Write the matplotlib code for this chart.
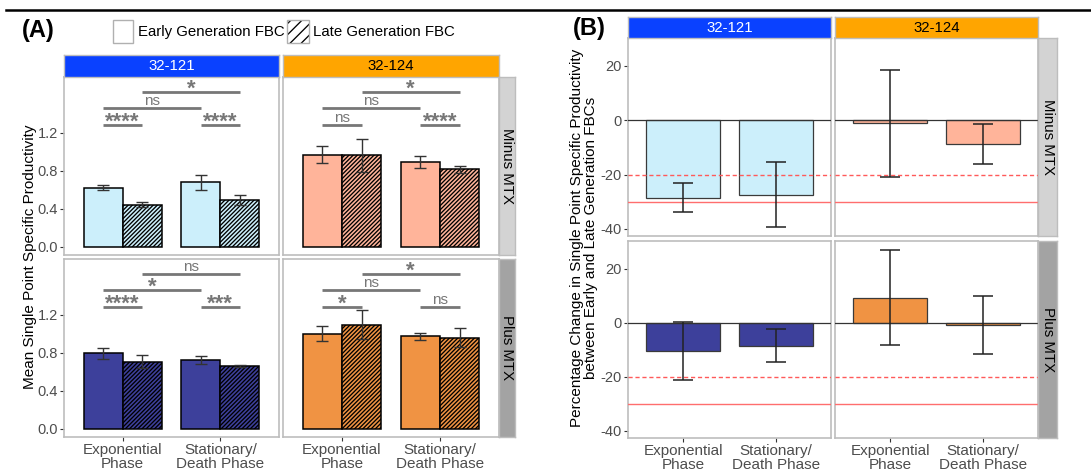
import matplotlib
matplotlib.use("Agg")
import matplotlib.pyplot as plt
import numpy as np
from matplotlib.patches import Rectangle
from matplotlib.lines import Line2D

plt.rcParams["font.family"] = ["Liberation Sans", "DejaVu Sans"]
plt.rcParams["hatch.linewidth"] = 0.95
plt.rcParams["axes.unicode_minus"] = False

# ---------------------------------------------------------------- data
phases = ["Exponential\nPhase", "Stationary/\nDeath Phase"]
cell_lines = ["32-121", "32-124"]
conditions = ["Minus MTX", "Plus MTX"]

# (A) mean single point specific productivity; rows = cell line, cols = phase
early_minus = [[0.624, 0.680], [0.968, 0.890]]
early_minus_sd = [[0.030, 0.080], [0.090, 0.060]]
late_minus = [[0.445, 0.495], [0.961, 0.814]]
late_minus_sd = [[0.025, 0.055], [0.170, 0.035]]
early_plus = [[0.793, 0.723], [1.002, 0.971]]
early_plus_sd = [[0.055, 0.045], [0.080, 0.037]]
late_plus = [[0.706, 0.664], [1.096, 0.960]]
late_plus_sd = [[0.070, 0.010], [0.155, 0.095]]

# significance labels: [exp early-late, stat early-late, early exp-stat, late exp-stat]
sig_minus = [["****", "****", "ns", "*"], ["ns", "****", "ns", "*"]]
sig_plus = [["****", "***", "*", "ns"], ["*", "ns", "ns", "*"]]

# (B) percentage change late vs early; rows = cell line, cols = phase
pct_minus = [[-28.5, -27.4], [-1.1, -8.9]]
pct_minus_err = [[5.4, 11.9], [19.7, 7.3]]
pct_plus = [[-10.4, -8.5], [9.3, -0.85]]
pct_plus_err = [[10.8, 6.0], [17.7, 10.7]]

a_ticks = [0.0, 0.4, 0.8, 1.2]
b_ticks = [-40, -20, 0, 20]

# ---------------------------------------------------------------- style
fills = {("Minus MTX", "32-121"): "#CCEFFB", ("Minus MTX", "32-124"): "#FFB49A",
         ("Plus MTX", "32-121"): "#3D409B", ("Plus MTX", "32-124"): "#F09343"}
strip_top = {"32-121": ("#0A41FF", "white"), "32-124": ("#FFA500", "black")}
strip_side = {"Minus MTX": "#D3D3D3", "Plus MTX": "#A3A3A3"}
frame_col = "#BDBDBD"
tick_col = "#333333"
label_col = "#4D4D4D"

W, H = 1091, 470
fig = plt.figure(figsize=(W / 100, H / 100), dpi=100)


def box(x0, y0, x1, y1):
    return [x0 / W, 1 - y1 / H, (x1 - x0) / W, (y1 - y0) / H]


def strip(rect, text, face, color="black", rotation=0):
    s = fig.add_axes(box(*rect))
    s.set_facecolor(face)
    s.set_xticks([])
    s.set_yticks([])
    for sp in s.spines.values():
        sp.set_color(frame_col)
        sp.set_linewidth(1.0)
    s.text(0.5, 0.5, text, ha="center", va="center", color=color,
           fontsize=10.8, rotation=rotation, transform=s.transAxes)
    return s


def style_panel(ax, left, bottom, yticks, ylabels, ylim):
    ax.set_xlim(0.4, 2.6)
    ax.set_ylim(*ylim)
    for sp in ax.spines.values():
        sp.set_color(frame_col)
        sp.set_linewidth(1.2)
    ax.set_xticks([1, 2])
    ax.set_yticks(yticks)
    ax.tick_params(colors=tick_col, labelcolor=label_col, length=3, width=0.8, pad=1.5)
    if bottom:
        ax.set_xticklabels(phases, fontsize=11, linespacing=0.95)
    else:
        ax.tick_params(axis="x", length=0, labelbottom=False)
    if left:
        ax.set_yticklabels(ylabels, fontsize=10.5)
    else:
        ax.tick_params(axis="y", length=0, labelleft=False)


x = np.arange(1, 3)

# ---------------------------------------------------------------- panel A
a_cols = [(64, 279), (283, 499)]
a_rows = [(77, 255), (259, 437)]
a_data = {"Minus MTX": (early_minus, early_minus_sd, late_minus, late_minus_sd, sig_minus),
          "Plus MTX": (early_plus, early_plus_sd, late_plus, late_plus_sd, sig_plus)}
bracket_x = [(0.8, 1.2), (1.8, 2.2), (0.8, 1.8), (1.2, 2.2)]
bracket_y = [1.28, 1.28, 1.455, 1.625]

for i, cond in enumerate(conditions):
    e, esd, l, lsd, sig = a_data[cond]
    for j, line in enumerate(cell_lines):
        x0, x1 = a_cols[j]
        y0, y1 = a_rows[i]
        ax = fig.add_axes(box(x0, y0, x1, y1))
        ek = dict(ecolor="#333333", elinewidth=1.0, capsize=4, capthick=1.0)
        ax.bar(x - 0.2, e[j], 0.4, color=fills[(cond, line)], edgecolor="black",
               linewidth=1.1, yerr=esd[j], error_kw=ek)
        ax.bar(x + 0.2, l[j], 0.4, color=fills[(cond, line)], edgecolor="black",
               linewidth=1.1, hatch="////////", yerr=lsd[j], error_kw=ek)
        for (bx0, bx1), by, lab in zip(bracket_x, bracket_y, sig[j]):
            ax.plot([bx0, bx1], [by, by], color="#777777", lw=2.0,
                    solid_capstyle="butt")
            if lab == "ns":
                ax.annotate(lab, ((bx0 + bx1) / 2, by), xytext=(0, 2.2),
                            textcoords="offset points", ha="center", va="baseline",
                            fontsize=11, color="#777777")
            else:
                ax.annotate(lab, ((bx0 + bx1) / 2, by), xytext=(0, -2.0),
                            textcoords="offset points", ha="center", va="baseline",
                            fontsize=16, fontweight="bold", color="#777777")
        style_panel(ax, j == 0, i == 1, a_ticks, [f"{t:.1f}" for t in a_ticks],
                    (-0.085, 1.785))
        if i == 0:
            strip((x0, 55, x1, 77), line, strip_top[line][0], strip_top[line][1])
    strip((499, a_rows[i][0], 515, a_rows[i][1]), cond, strip_side[cond], rotation=-90)

fig.text(30 / W, 1 - 257 / H, "Mean Single Point Specific Productivity",
         rotation=90, ha="center", va="center", fontsize=11)

# ---------------------------------------------------------------- panel B
b_cols = [(628, 831), (835, 1038)]
b_rows = [(38, 236), (241, 438)]
b_data = {"Minus MTX": (pct_minus, pct_minus_err), "Plus MTX": (pct_plus, pct_plus_err)}

for i, cond in enumerate(conditions):
    v, err = b_data[cond]
    for j, line in enumerate(cell_lines):
        x0, x1 = b_cols[j]
        y0, y1 = b_rows[i]
        ax = fig.add_axes(box(x0, y0, x1, y1))
        ax.bar(x, v[j], 0.8, color=fills[(cond, line)], edgecolor="#3A3A3A",
               linewidth=0.9, zorder=2)
        ax.axhline(0, color="#333333", lw=0.9, zorder=3)
        ax.axhline(-20, color="#FF5A5A", lw=1.0, ls=(0, (3, 2)), zorder=3)
        ax.axhline(-30, color="#FF6E6E", lw=1.0, zorder=3)
        ax.errorbar(x, v[j], yerr=err[j], fmt="none", ecolor="#222222",
                    elinewidth=1.1, capsize=7, capthick=1.1, zorder=4)
        style_panel(ax, j == 0, i == 1, b_ticks, [str(t) for t in b_ticks],
                    (-42.6, 30.2))
        if i == 0:
            strip((x0, 17, x1, 38), line, strip_top[line][0], strip_top[line][1])
    strip((1038, b_rows[i][0], 1057, b_rows[i][1]), cond, strip_side[cond], rotation=-90)

fig.text(584.5 / W, 1 - 238 / H,
         "Percentage Change in Single Point Specific Productivity\n"
         "between Early and Late Generation FBCs",
         rotation=90, ha="center", va="center", multialignment="center",
         fontsize=11, linespacing=1.0)

# ---------------------------------------------------------------- labels, legend
fig.text(22 / W, 1 - 31 / H, "(A)", fontsize=17, fontweight="bold", va="center")
fig.text(573 / W, 1 - 29 / H, "(B)", fontsize=17, fontweight="bold", va="center")

fig.add_artist(Line2D([6 / W, 1.0], [1 - 10 / H] * 2, color="black", lw=1.8))

fig.add_artist(Rectangle((113 / W, 1 - 43 / H), 20 / W, 23 / H, transform=fig.transFigure,
                         facecolor="white", edgecolor="#B0B0B0", lw=1.0))
fig.text(138 / W, 1 - 32 / H, "Early Generation FBC", fontsize=10.8, va="center")
fig.add_artist(Rectangle((287 / W, 1 - 43 / H), 22 / W, 23 / H, transform=fig.transFigure,
                         facecolor="white", edgecolor="black", lw=0, hatch="///"))
fig.add_artist(Rectangle((287 / W, 1 - 43 / H), 22 / W, 23 / H, transform=fig.transFigure,
                         facecolor="none", edgecolor="#B0B0B0", lw=1.0))
fig.text(313 / W, 1 - 32 / H, "Late Generation FBC", fontsize=10.8, va="center")

fig.savefig("out.png", dpi=100)
